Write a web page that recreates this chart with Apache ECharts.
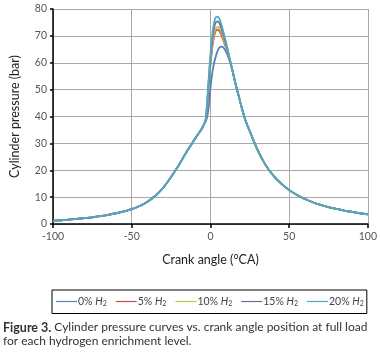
<!DOCTYPE html>
<html><head><meta charset="utf-8">
<script src="https://cdn.jsdelivr.net/npm/echarts@6/dist/echarts.min.js"></script>
<style>html,body{margin:0;padding:0;background:#fff}#c{width:380px;height:362px}</style>
</head><body><div id="c"></div>
<script>
// Crank angles (°CA)
const angles = [-100,-95,-90,-85,-80,-75,-70,-65,-60,-55,-50,-45,-40,-35,-30,-25,-20,-15,-10,-8,-6,-5,-4,
  -3,-2,-1,0,1,2,3,4,5,6,7,8,9,10,12,14,
  16,18,20,22,25,30,35,40,45,50,55,60,65,70,75,80,85,90,95,100];
// Shared compression part (-100 .. -4)
const compression = [1.2,1.4,1.6,1.9,2.2,2.5,2.9,3.4,4.0,4.7,5.5,6.7,8.3,10.5,13.5,17.5,22,27,31.5,33.3,35,36,37.2];
// Per-series combustion part (-3 .. 14)
const h0  = [38.2,40,44,50.5,55.5,59,61.5,63.5,65,65.8,66,65.8,65,64,61,57];
const h5  = [38.7,44,52,59,65,69,71.3,72.2,72.2,71.5,70.3,68.8,67,65.5,61.5,57];
const h10 = [38.7,44.5,52.5,59.5,65.5,69.8,72.2,73.2,73.3,72.6,71.2,69.5,67.7,65.8,61.7,57];
const h15 = [38.9,45.5,54,61.5,67.5,72,74.5,75.3,75.3,74.4,72.8,70.9,68.8,66.7,62,57];
const h20 = [39,46.5,55,63,69.5,74,76.4,77.2,77,76,74.2,72,69.7,67.4,62.3,57.2];
// Shared expansion part (16 .. 100)
const expansion = [52,47.5,43,39,34.5,27.5,22,18,15,12.6,10.8,9.3,8.1,7.1,6.3,5.6,5.0,4.5,4.0,3.6];
const seriesNames = ['0%','5%','10%','15%','20%'];
const seriesVals = [h0,h5,h10,h15,h20];
const colors = ['#4F81BD','#C0504D','#C4C23E','#8064A2','#4BACC6'];
const xTicks = [-100,-50,0,50,100];
const yTicks = [0,10,20,30,40,50,60,70,80];

const chart = echarts.init(document.getElementById('c'));
const font = 'Lato';
const series = seriesVals.map((v,i)=>{
  const vals = compression.concat(v, expansion);
  return {
    name: seriesNames[i], type:'line', symbol:'none', smooth:0.3,
    lineStyle:{width:1.8,color:colors[i]}, itemStyle:{color:colors[i]},
    data: angles.map((a,k)=>[a,vals[k]])
  };
});
chart.setOption({
  animation:false,
  color: colors,
  grid:{left:49,right:10,top:9,bottom:138},
  xAxis:{type:'value',min:xTicks[0],max:xTicks[xTicks.length-1],interval:50,
    name:'Crank angle (°CA)',nameLocation:'middle',nameGap:29,
    nameTextStyle:{fontFamily:font,fontSize:12.5,color:'#222'},
    axisLine:{onZero:false,lineStyle:{color:'#000',width:1.5}},
    axisTick:{show:true,length:4,lineStyle:{color:'#000',width:1.5}},
    axisLabel:{fontFamily:font,fontSize:10.5,color:'#555',margin:7},
    splitLine:{show:true,lineStyle:{color:'#a8a8a8',width:1}}},
  yAxis:{type:'value',min:yTicks[0],max:yTicks[yTicks.length-1],interval:10,
    name:'Cylinder pressure (bar)',nameLocation:'middle',nameGap:32,
    nameTextStyle:{fontFamily:font,fontSize:12.5,color:'#222'},
    axisLine:{show:true,onZero:false,lineStyle:{color:'#000',width:1.5}},
    axisTick:{show:true,length:3,lineStyle:{color:'#000',width:1.5}},
    axisLabel:{fontFamily:font,fontSize:10.5,color:'#555',margin:6},
    splitLine:{show:true,lineStyle:{color:'#a8a8a8',width:1}}},
  legend:{left:52,top:290,icon:'rect',itemWidth:21,itemHeight:1.2,itemGap:9,
    padding:[6,3,6,4],borderColor:'#000',borderWidth:1,
    formatter:n=>'{n|'+n+' }{i|H}{s|2}',
    textStyle:{fontFamily:font,fontSize:10.5,color:'#444',padding:[0,0,0,-4],
      rich:{n:{fontFamily:font,fontSize:10.5,color:'#444'},
            i:{fontFamily:font,fontSize:10.5,fontStyle:'italic',color:'#444'},
            s:{fontFamily:font,fontSize:7,color:'#444',verticalAlign:'bottom',padding:[5,0,0,0]}}}},
  graphic:[
    {type:'text',left:3,top:321,style:{text:'{b|Figure 3.} Cylinder pressure curves vs. crank angle position at full load',
      font:'12px '+font,fill:'#333',rich:{b:{fontFamily:font,fontSize:12.5,fontWeight:'bold',fill:'#333'}}}},
    {type:'text',left:3,top:335,style:{text:'for each hydrogen enrichment level.',font:'12px '+font,fill:'#333'}}
  ],
  series: series
});
</script></body></html>
